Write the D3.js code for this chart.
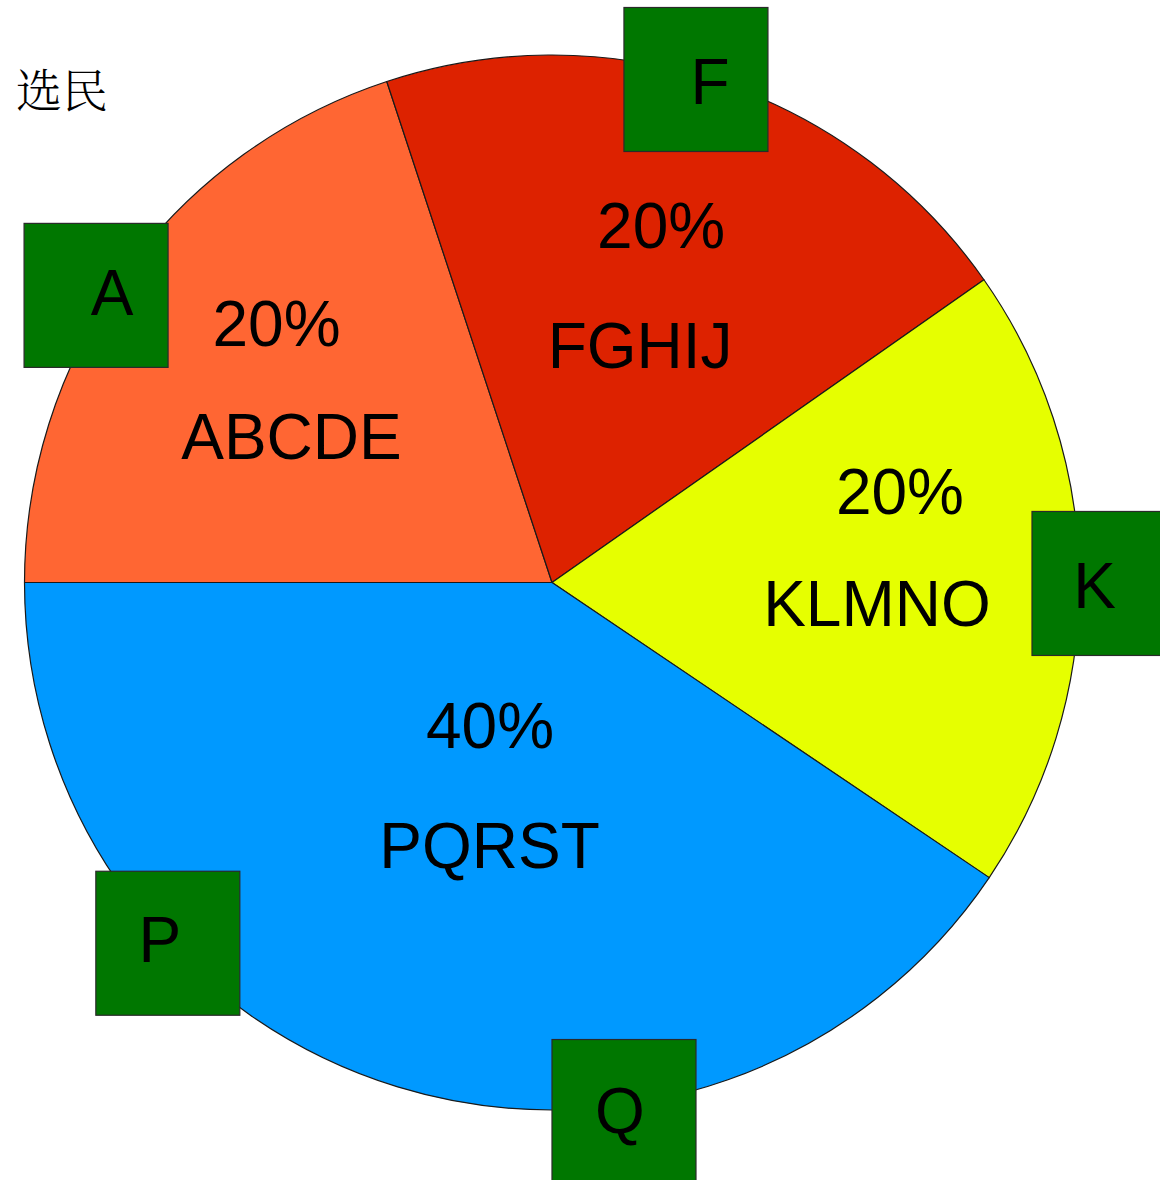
<!DOCTYPE html>
<html><head><meta charset="utf-8">
<script src="https://cdn.jsdelivr.net/npm/d3@7"></script>
<style>body{margin:0;background:#fff;overflow:hidden}</style>
</head><body><svg id="chart" width="1160" height="1180"></svg>
<script>
// ---- data (slice sizes estimated from the drawn angles) ----
const title = "选民";
const categories = ["ABCDE", "FGHIJ", "KLMNO", "PQRST"];
const values = [19.93, 20.34, 19.18, 40.55];
const percentLabels = ["20%", "20%", "20%", "40%"];
const sliceColors = ["#FF6633", "#DD2200", "#E6FF00", "#0099FF"];
const markerLetters = ["A", "F", "K", "P", "Q"];

// ---- layout / style ----
const cx = 552, cy = 582.5, R = 527.5;
const labelLayout = [
  {r: 336.5, nudge: 1.33, dxP: -7.5, dxN: 7.5,  gap: 113},
  {r: 313,   nudge: 0,    dxP: 10.5, dxN: -10.5, gap: 120},
  {r: 338.4, nudge: -5.6, dxP: 11.5, dxN: -11.5, gap: 112},
  {r: 211.4, nudge: 0.1,  dxP: 0.25, dxN: -0.25, gap: 120}
];
const markerLayout = [
  {a: -57.8, r: 538.8, dx: 16,   base: 92},
  {a: 15.97, r: 523.2, dx: 14,   base: 97},
  {a: 90.1,  r: 552,   dx: -9.5, base: 97},
  {a: 226.8, r: 527,   dx: -8,   base: 91},
  {a: 172.25,r: 533.9, dx: -4,   base: 93}
];
const BOX = 144;
const FONT = "'Liberation Sans', Arial, Helvetica, sans-serif";

const svg = d3.select("#chart");
const g = svg.append("g").attr("transform", `translate(${cx},${cy})`);

const pie = d3.pie().sort(null).value(d => d.value)
  .startAngle(-Math.PI / 2).endAngle(3 * Math.PI / 2);
const data = categories.map((c, i) => ({name: c, value: values[i], pct: percentLabels[i], color: sliceColors[i]}));
const arcs = pie(data);
const arc = d3.arc().innerRadius(0).outerRadius(R);

g.selectAll("path.slice").data(arcs).enter().append("path")
  .attr("class", "slice")
  .attr("d", arc)
  .attr("fill", d => d.data.color)
  .attr("stroke", "#1a1a1a")
  .attr("stroke-width", 1.2)
  .attr("stroke-linejoin", "round");

const polar = (deg, r) => {
  const a = deg * Math.PI / 180;
  return [Math.sin(a) * r, -Math.cos(a) * r];
};

// slice labels
arcs.forEach((d, i) => {
  const L = labelLayout[i];
  const mid = (d.startAngle + d.endAngle) / 2 * 180 / Math.PI + L.nudge;
  const [ax, ay] = polar(mid, L.r);
  g.append("text")
    .attr("x", ax + L.dxP).attr("y", ay - L.gap / 2 + 23)
    .attr("text-anchor", "middle")
    .attr("font-family", FONT).attr("font-size", 64).attr("fill", "#000")
    .text(d.data.pct);
  g.append("text")
    .attr("x", ax + L.dxN).attr("y", ay + L.gap / 2 + 23)
    .attr("text-anchor", "middle")
    .attr("font-family", FONT).attr("font-size", 64).attr("fill", "#000")
    .text(d.data.name);
});

// marker boxes
const markers = markerLetters.map((l, i) => ({letter: l, ...markerLayout[i]}));
const mg = g.selectAll("g.marker").data(markers).enter().append("g").attr("class", "marker")
  .attr("transform", d => {
    const [x, y] = polar(d.a, d.r);
    return `translate(${x - BOX / 2},${y - BOX / 2})`;
  });
mg.append("rect")
  .attr("width", BOX).attr("height", BOX)
  .attr("fill", "#007700").attr("stroke", "#2a2a2a").attr("stroke-width", 1.2);
mg.append("text")
  .attr("x", d => BOX / 2 + d.dx).attr("y", d => d.base)
  .attr("text-anchor", "middle")
  .attr("font-family", FONT).attr("font-size", 64).attr("fill", "#000")
  .text(d => d.letter);

// title
svg.append("text")
  .attr("x", 16).attr("y", 107)
  .attr("font-family", "'Noto Serif CJK SC', 'Noto Sans CJK SC', sans-serif")
  .attr("font-size", 46).attr("font-weight", 300).attr("fill", "#000")
  .text(title);
</script>
</body></html>
